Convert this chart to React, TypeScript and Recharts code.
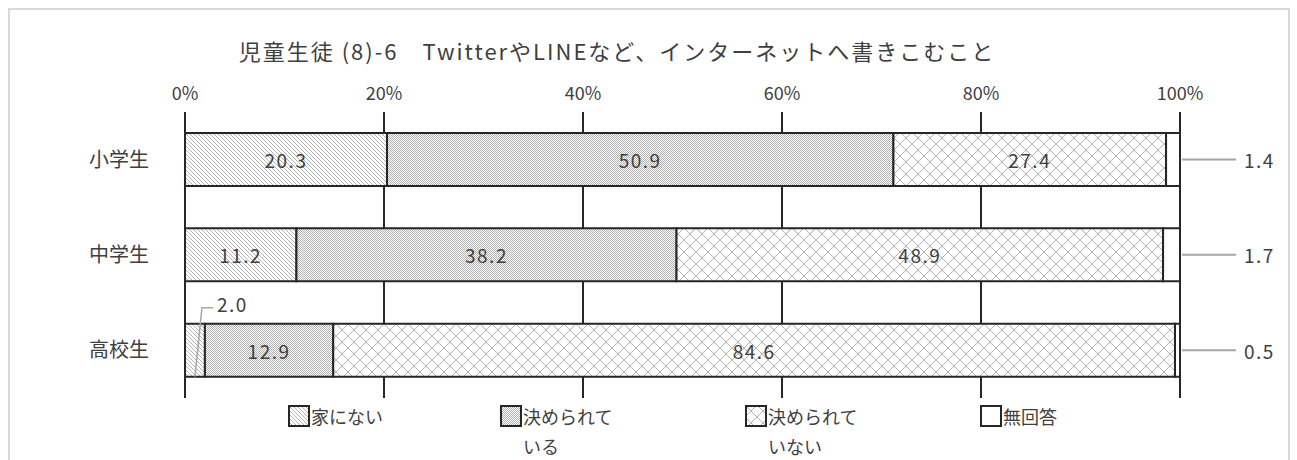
import React from 'react'
import { BarChart, Bar, XAxis, YAxis, CartesianGrid, LabelList } from 'recharts'

const TITLE = '児童生徒 (8)-6　TwitterやLINEなど、インターネットへ書きこむこと'
const CATEGORIES = ['小学生', '中学生', '高校生']
const NONE_AT_HOME = [20.3, 11.2, 2.0]
const HAS_RULES = [50.9, 38.2, 12.9]
const NO_RULES = [27.4, 48.9, 84.6]
const NO_ANSWER = [1.4, 1.7, 0.5]
const X_TICKS = [0, 20, 40, 60, 80, 100]

const SERIES = [
  { key: 'none', name: '家にない', fill: 'url(#pDiag)', lines: ['家にない'] },
  { key: 'rules', name: '決められている', fill: 'url(#pDots)', lines: ['決められて', 'いる'] },
  { key: 'norules', name: '決められていない', fill: 'url(#pDiamond)', lines: ['決められて', 'いない'] },
  { key: 'na', name: '無回答', fill: '#ffffff', lines: ['無回答'] },
]
const LEGEND_X = [288, 500, 745, 980]

const data = CATEGORIES.map((c, i) => ({
  name: c,
  none: NONE_AT_HOME[i],
  rules: HAS_RULES[i],
  norules: NO_RULES[i],
  na: NO_ANSWER[i],
}))

const FONT = '"Noto Sans CJK JP", "Noto Sans", sans-serif'
const TEXT = '#404040'

const fmt = (v: number) => v.toFixed(1)

// in-bar label; tiny segments get a leader line above the bar instead
const InnerLabel = (props: any) => {
  const { x, y, width, height, value } = props
  if (value < 5) {
    const x0 = x + width / 2
    const y0 = y + height
    const x1 = x0 + 7
    const y1 = y - 16
    return (
      <g>
        <polyline points={`${x0},${y0} ${x1},${y1} ${x1 + 11},${y1}`} fill="none" stroke="#a6a6a6" strokeWidth={1.5} />
        <text x={x1 + 15} y={y1 - 4} dominantBaseline="central" fontSize={19} letterSpacing={1.5} fill={TEXT} fontFamily={FONT}>{fmt(value)}</text>
      </g>
    )
  }
  return (
    <text x={x + width / 2} y={y + height / 2} textAnchor="middle" dominantBaseline="central"
      fontSize={19} letterSpacing={1.5} fill={TEXT} fontFamily={FONT}>{fmt(value)}</text>
  )
}

// 無回答 goes outside to the right with a leader line
const OuterLabel = (props: any) => {
  const { x, y, width, height, value } = props
  const xs = x + width + 2
  const cy = y + height / 2
  return (
    <g>
      <line x1={xs} y1={cy} x2={xs + 54} y2={cy} stroke="#a6a6a6" strokeWidth={2} />
      <text x={xs + 62} y={cy} dominantBaseline="central" fontSize={19} letterSpacing={1.5} fill={TEXT} fontFamily={FONT}>{fmt(value)}</text>
    </g>
  )
}

const Swatch = ({ fill }: { fill: string }) => (
  <svg width={22} height={22} style={{ display: 'block', flex: 'none' }}>
    <rect x={1} y={1} width={20} height={20} fill={fill} stroke="#262626" strokeWidth={2} />
  </svg>
)

export default function App() {
  return (
    <div style={{ position: 'fixed', left: 0, top: 0, width: 1297, height: 460, background: '#fff', overflow: 'hidden' }}>
      <div style={{ position: 'absolute', left: 8, top: 8, width: 1282, height: 470, border: '2px solid #d9d9d9', boxSizing: 'border-box' }} />
      <BarChart
        width={1297}
        height={460}
        data={data}
        layout="vertical"
        barSize={53}
        margin={{ top: 70, right: 117, bottom: 62, left: 0 }}
        style={{ position: 'absolute', left: 0, top: 0 }}
      >
        <defs>
          <pattern id="pDiag" width={4} height={4} patternUnits="userSpaceOnUse">
            <rect width={4} height={4} fill="#fff" />
            <path d="M0,0 L4,4 M-1,3 L1,5 M3,-1 L5,1" stroke="#b4b4b4" strokeWidth={1} />
          </pattern>
          <pattern id="pDots" width={2} height={2} patternUnits="userSpaceOnUse">
            <rect width={2} height={2} fill="#fff" />
            <rect x={0} y={0} width={1} height={1} fill="#b0b0b0" />
            <rect x={1} y={1} width={1} height={1} fill="#b0b0b0" />
          </pattern>
          <pattern id="pDiamond" width={12} height={12} patternUnits="userSpaceOnUse">
            <rect width={12} height={12} fill="#fff" />
            <path d="M0,0 L12,12 M12,0 L0,12" stroke="#b4b4b4" strokeWidth={1} />
          </pattern>
        </defs>
        <text x={617} y={50} textAnchor="middle" dominantBaseline="central" fontSize={22} letterSpacing={2} fill={TEXT} fontFamily={FONT}>
          {TITLE}
        </text>
        <CartesianGrid horizontal={false} stroke="#262626" strokeWidth={2} />
        <XAxis
          type="number"
          orientation="top"
          domain={[0, 100]}
          ticks={X_TICKS}
          tickFormatter={(v) => `${v}%`}
          height={42}
          axisLine={false}
          tickLine={false}
          tickMargin={6}
          tick={{ fill: TEXT, fontSize: 18, fontFamily: FONT }}
        />
        <YAxis
          type="category"
          dataKey="name"
          width={185}
          axisLine={{ stroke: '#262626', strokeWidth: 2 }}
          tickLine={false}
          tickMargin={30}
          tick={{ fill: TEXT, fontSize: 20, fontFamily: FONT }}
        />
        {SERIES.map((s) => (
          <Bar key={s.key} dataKey={s.key} name={s.name} stackId="a" fill={s.fill}
            stroke="#262626" strokeWidth={2} isAnimationActive={false}>
            <LabelList dataKey={s.key} content={s.key === 'na' ? <OuterLabel /> : <InnerLabel />} />
          </Bar>
        ))}
      </BarChart>
      <div style={{ position: 'absolute', left: 0, top: 405, width: 1297, fontFamily: FONT, color: TEXT, fontSize: 18 }}>
        {SERIES.map((s, i) => (
          <div key={s.key} style={{ position: 'absolute', left: LEGEND_X[i], top: 0, display: 'flex', alignItems: 'flex-start' }}>
            <Swatch fill={s.fill} />
            <div style={{ lineHeight: '30px', marginLeft: 1, marginTop: -4 }}>
              {s.lines.map((l) => <div key={l}>{l}</div>)}
            </div>
          </div>
        ))}
      </div>
    </div>
  )
}
